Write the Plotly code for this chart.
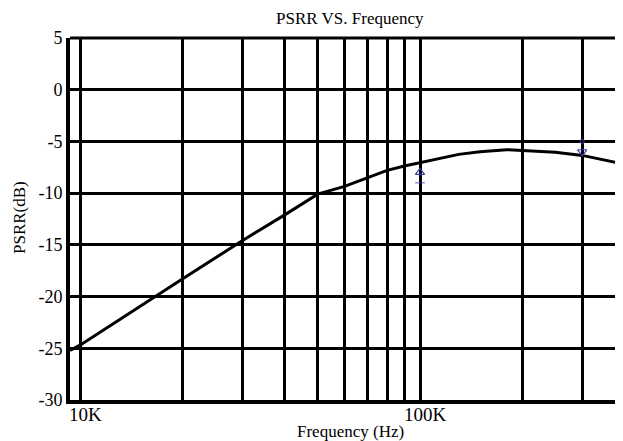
import plotly.graph_objects as go
import numpy as np

# Data
freq_hz = [9350, 10000, 20000, 30000, 40000, 50000, 60000, 70000, 80000, 90000,
           100000, 130000, 150000, 180000, 200000, 250000, 300000, 400000, 420000]
psrr_db = [-25.2, -24.7, -18.3, -14.6, -12.1, -10.1, -9.35, -8.5, -7.8, -7.38,
           -7.05, -6.25, -6.0, -5.8, -5.87, -6.05, -6.35, -7.2, -7.35]

grid_freqs = [10000, 20000, 30000, 40000, 50000, 60000, 70000, 80000, 90000,
              100000, 200000, 300000]
x_label_vals = [10000, 100000]
x_label_text = ["10K", "100K"]
y_ticks = [5, 0, -5, -10, -15, -20, -25, -30]
y_tick_text = ["5", "0", "-5", "-10", "-15", "-20", "-25", "-30"]

cursor_freqs = [100000, 300000]
cursor_db = [-8.0, -6.0]
cursor_symbols = ["triangle-up-open", "triangle-down-open"]
cursor_tag_db = [-9.0, -5.0]
cursor_tag_symbols = ["line-ew", "circle-open"]

FONT = "Liberation Serif"

fig = go.Figure()
fig.add_trace(go.Scatter(x=freq_hz, y=psrr_db, mode="lines",
                         line=dict(color="black", width=3), showlegend=False,
                         hoverinfo="skip"))
fig.add_trace(go.Scatter(x=cursor_freqs, y=cursor_db, mode="markers",
                         marker=dict(symbol=cursor_symbols, size=8,
                                     color="#3a3ab0", line=dict(width=1.2)),
                         showlegend=False, hoverinfo="skip"))
fig.add_trace(go.Scatter(x=cursor_freqs, y=cursor_tag_db, mode="markers",
                         marker=dict(symbol=cursor_tag_symbols, size=[7, 4],
                                     color="#3a3ab0",
                                     line=dict(width=1.2, color="#3a3ab0")),
                         showlegend=False, hoverinfo="skip"))

# The page body has an 8px margin; the plot runs off the right edge like the reference
fig.update_layout(
    width=623, height=433,
    margin=dict(l=62, r=0, t=30, b=41, autoexpand=False),
    paper_bgcolor="white", plot_bgcolor="white",
    font=dict(family=FONT, color="black", size=18),
    xaxis=dict(type="log", range=[3.9706, 3.9706 + 561 / 340],
               tickvals=grid_freqs, ticktext=["" for _ in grid_freqs],
               showgrid=True, gridcolor="black", gridwidth=2.5,
               showline=True, linecolor="black", linewidth=4, mirror=False,
               ticks="", zeroline=False, automargin=False),
    yaxis=dict(range=[-30, 5], tickvals=y_ticks, ticktext=y_tick_text,
               showgrid=True, gridcolor="black", gridwidth=2.5,
               showline=True, linecolor="black", linewidth=4,
               ticks="", zeroline=False, automargin=False,
               tickfont=dict(size=18, family=FONT)),
)

# top border line
fig.add_shape(type="line", xref="paper", yref="paper", x0=0, x1=1, y0=1, y1=1,
              line=dict(color="black", width=3))

# x tick labels
for v, t in zip(x_label_vals, x_label_text):
    fig.add_annotation(x=np.log10(v), y=0, xref="x", yref="paper", text=t,
                       showarrow=False, xanchor="center", yanchor="top",
                       xshift=5, yshift=-2, font=dict(size=19, family=FONT))

# titles (centred near page x=350)
cx = (350 - 70) / 561
fig.add_annotation(text="PSRR VS. Frequency", xref="paper", yref="paper",
                   x=cx, y=1, xanchor="center", yanchor="middle",
                   yshift=20, showarrow=False, font=dict(size=17, family=FONT))
fig.add_annotation(text="Frequency (Hz)", xref="paper", yref="paper",
                   x=cx, y=0, xanchor="center", yanchor="middle",
                   yshift=-31, borderpad=0,
                   showarrow=False, font=dict(size=17, family=FONT))
fig.add_annotation(text="PSRR(dB)", xref="paper", yref="paper",
                   x=0, xshift=-50, xanchor="center", yanchor="middle",
                   y=(400 - 218) / 362, textangle=-90,
                   showarrow=False, font=dict(size=17, family=FONT))

fig.write_html("out.html")
